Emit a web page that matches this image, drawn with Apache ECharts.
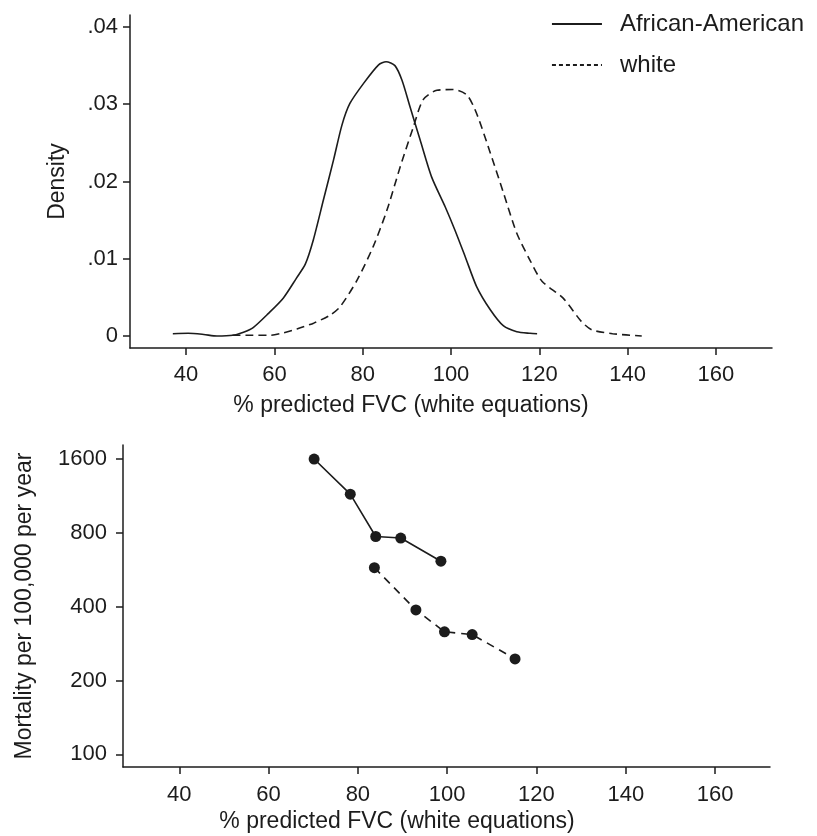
<!DOCTYPE html>
<html>
<head>
<meta charset="utf-8">
<script src="https://cdn.jsdelivr.net/npm/echarts@6/dist/echarts.min.js"></script>
<style>
  html, body { margin: 0; padding: 0; background: #fff; }
  #chart { width: 817px; height: 836px; }
</style>
</head>
<body>
<div id="chart"></div>
<script>
// density curves (top panel)
var aaFvcX = [37, 40.5, 44, 47, 50.6, 53, 55.2, 58.6, 62, 65, 67, 68.8, 71.1, 73.4, 75.3, 77.1, 80.2, 83.6, 85.3, 87.3, 88.9, 90.7, 93, 95.6, 98.7, 100.9, 103.2, 105.8, 108.9, 111.9, 114.9, 117.9, 119.5];
var aaDensity = [0.0003, 0.00035, 0.0002, 0.0, 0.0001, 0.0005, 0.0011, 0.0029, 0.0049, 0.0075, 0.0093, 0.0124, 0.0176, 0.0228, 0.0273, 0.0301, 0.0327, 0.0351, 0.0355, 0.0350, 0.0331, 0.0297, 0.0254, 0.0206, 0.0167, 0.0137, 0.0103, 0.0064, 0.0034, 0.0013, 0.00056, 0.00035, 0.0003];
var whFvcX = [50.5, 55, 59, 62, 65.1, 69, 72.6, 74.9, 78.7, 82.4, 85.5, 88.5, 91.5, 93.7, 96.8, 100.5, 103.6, 105.8, 108.9, 111.9, 114.9, 117.9, 120.6, 125.4, 129.5, 131.9, 136.6, 143.2];
var whDensity = [0.0001, 0.0001, 0.0001, 0.0004, 0.0009, 0.0017, 0.0027, 0.0038, 0.0072, 0.0116, 0.0163, 0.0219, 0.0271, 0.0306, 0.0318, 0.0319, 0.0312, 0.0288, 0.0237, 0.0185, 0.0133, 0.0098, 0.0071, 0.0049, 0.0019, 0.0008, 0.0003, 0.0];

// mortality (bottom panel)
var aaMortX = [70.2, 78.3, 84.0, 89.6, 98.6];
var aaMort = [1600, 1150, 773, 762, 613];
var whMortX = [83.7, 93.0, 99.4, 105.6, 115.2];
var whMort = [577, 388, 316, 308, 245];

var xTicks = [40, 60, 80, 100, 120, 140, 160];
var densityTicks = [0, 0.01, 0.02, 0.03, 0.04];
var mortTicks = [100, 200, 400, 800, 1600];

var ink = '#1c1c1c';
var font = 'Liberation Sans, Arial, Helvetica, sans-serif';

function pairs(xs, ys) {
  return xs.map(function (x, i) { return [x, ys[i]]; });
}
function logPairs(xs, ys) {
  return xs.map(function (x, i) { return [x, Math.log2(ys[i])]; });
}

var axisLine = { show: true, onZero: false, lineStyle: { color: ink, width: 1.5 } };
var axisTick = { show: true, inside: false, length: 7, lineStyle: { color: ink, width: 1.5 } };

var chart = echarts.init(document.getElementById('chart'));

var option = {
  backgroundColor: '#fff',
  animation: false,
  legend: {
    orient: 'vertical',
    right: 8,
    top: 7,
    itemWidth: 50,
    itemHeight: 14,
    itemGap: 17,
    align: 'left',
    itemStyle: { opacity: 0 },
    data: [
      { name: 'African-American' },
      { name: 'white', lineStyle: { type: [4, 3] } }
    ],
    textStyle: { fontFamily: font, fontSize: 24, color: ink, padding: [0, 0, 0, 13] }
  },
  grid: [
    { left: 130, right: 45, top: 15, height: 333 },
    { left: 123, right: 47, top: 445, height: 322 }
  ],
  xAxis: [
    {
      gridIndex: 0, type: 'value', min: 27.3, max: 172.7,
      axisLine: axisLine,
      axisTick: Object.assign({ customValues: xTicks }, axisTick),
      axisLabel: { customValues: xTicks, margin: 16, fontFamily: font, fontSize: 22, color: ink },
      splitLine: { show: false }
    },
    {
      gridIndex: 1, type: 'value', min: 27.4, max: 172.3,
      axisLine: axisLine,
      axisTick: Object.assign({ customValues: xTicks }, axisTick),
      axisLabel: { customValues: xTicks, margin: 17, fontFamily: font, fontSize: 22, color: ink },
      splitLine: { show: false }
    }
  ],
  yAxis: [
    {
      gridIndex: 0, type: 'value', min: -0.00155, max: 0.04155,
      name: 'Density', nameLocation: 'middle', nameGap: 61,
      nameTextStyle: { fontFamily: font, fontSize: 23, color: ink },
      axisLine: axisLine,
      axisTick: Object.assign({ customValues: densityTicks }, axisTick),
      axisLabel: {
        customValues: densityTicks, margin: 12, fontFamily: font, fontSize: 22, color: ink,
        formatter: function (v) { return v === 0 ? '0' : v.toFixed(2).replace(/^0/, ''); }
      },
      splitLine: { show: false }
    },
    {
      gridIndex: 1, type: 'value', min: Math.log2(88.8), max: Math.log2(1825),
      name: 'Mortality per 100,000 per year', nameLocation: 'middle', nameGap: 87,
      nameTextStyle: { fontFamily: font, fontSize: 23, color: ink },
      axisLine: axisLine,
      axisTick: Object.assign({ customValues: mortTicks.map(Math.log2) }, axisTick),
      axisLabel: {
        customValues: mortTicks.map(Math.log2), margin: 16, fontFamily: font, fontSize: 22, color: ink,
        formatter: function (v) { return String(Math.round(Math.pow(2, v))); }
      },
      splitLine: { show: false }
    }
  ],
  graphic: [
    { type: 'text', x: 411, y: 406, style: { text: '% predicted FVC (white equations)', font: '23px ' + font, fill: ink, textAlign: 'center', textVerticalAlign: 'middle' } },
    { type: 'text', x: 397, y: 822, style: { text: '% predicted FVC (white equations)', font: '23px ' + font, fill: ink, textAlign: 'center', textVerticalAlign: 'middle' } }
  ],
  series: [
    {
      name: 'African-American', type: 'line', xAxisIndex: 0, yAxisIndex: 0,
      data: pairs(aaFvcX, aaDensity), smooth: 0.25, symbol: 'none',
      lineStyle: { color: ink, width: 1.6, type: 'solid' }, itemStyle: { color: ink }
    },
    {
      name: 'white', type: 'line', xAxisIndex: 0, yAxisIndex: 0,
      data: pairs(whFvcX, whDensity), smooth: 0.25, symbol: 'none',
      lineStyle: { color: ink, width: 1.6, type: [8, 5] }, itemStyle: { color: ink }
    },
    {
      name: 'African-American mortality', type: 'line', xAxisIndex: 1, yAxisIndex: 1,
      data: logPairs(aaMortX, aaMort), symbol: 'circle', symbolSize: 11,
      lineStyle: { color: ink, width: 1.6, type: 'solid' }, itemStyle: { color: ink }
    },
    {
      name: 'white mortality', type: 'line', xAxisIndex: 1, yAxisIndex: 1,
      data: logPairs(whMortX, whMort), symbol: 'circle', symbolSize: 11,
      lineStyle: { color: ink, width: 1.6, type: [8, 6] }, itemStyle: { color: ink }
    }
  ]
};

chart.setOption(option);
</script>
</body>
</html>
